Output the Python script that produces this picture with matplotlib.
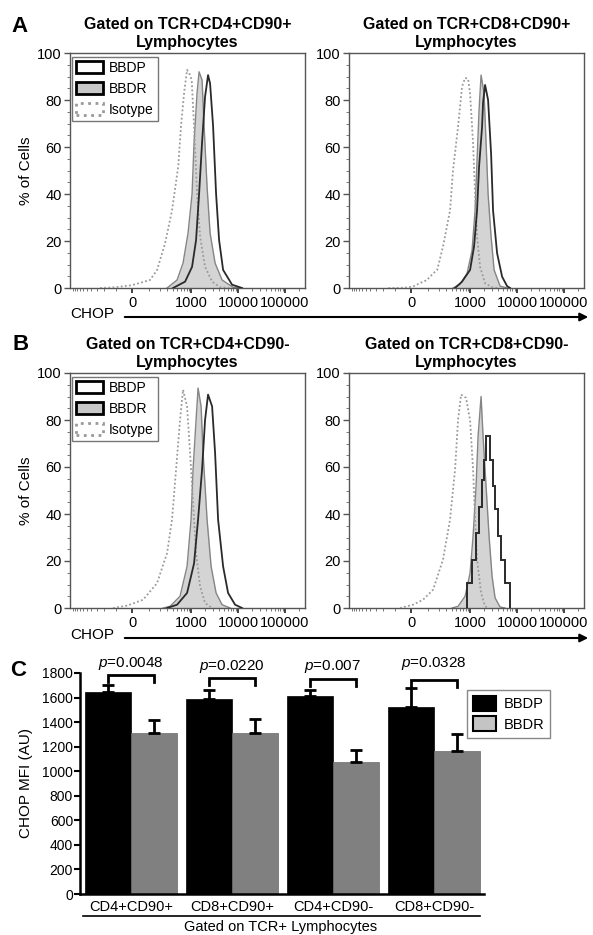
import numpy as np
import matplotlib
matplotlib.use('Agg')
import matplotlib.pyplot as plt
from matplotlib.patches import Patch, FancyArrowPatch
from matplotlib.lines import Line2D
from matplotlib.ticker import MultipleLocator, FixedLocator

plt.rcParams['font.family'] = ['Liberation Sans', 'DejaVu Sans']
plt.rcParams['mathtext.fontset'] = 'custom'
plt.rcParams['mathtext.it'] = 'Liberation Sans:italic'
plt.rcParams['mathtext.rm'] = 'Liberation Sans'

# ---------------- histogram data (CHOP value, % of cells) ----------------
# A, CD4+CD90+
a4_iso_x = [-254, -104, 0, 111, 173, 269, 386, 530, 607, 707, 819, 930, 1030, 1157, 1341, 1553, 1986, 2805, 4150, 6770]
a4_iso_y = [0, 0.3, 1.2, 3.4, 7.7, 19, 33, 52, 69, 83, 92.8, 91, 88.5, 69, 40, 22, 9, 2.7, 0.3, 0]
a4_bbdr_x = [299, 498, 671, 860, 1048, 1157, 1341, 1480, 1715, 1892, 2192, 2540, 3247, 4575, 7840, 11050]
a4_bbdr_y = [0, 3.4, 10.6, 23.4, 40, 62, 83, 92, 88.5, 69, 43, 23.4, 10.6, 3.4, 0.3, 0]
a4_bbdp_x = [407, 743, 1048, 1277, 1480, 1715, 1986, 2300, 2540, 2942, 3410, 3950, 4810, 7460, 12190]
a4_bbdp_y = [0, 2.7, 9, 20.4, 40, 62, 81.4, 90.6, 87, 69, 40, 20.4, 7.7, 1.4, 0]

# A, CD8+CD90+
a8_iso_x = [-150, -39, 11, 51, 96, 145, 185, 254, 367, 427, 550, 671, 781, 905, 998, 1157, 1277, 1408, 1633, 2087, 2942, 4150]
a8_iso_y = [0, 0.1, 0.6, 2.1, 3.4, 6.2, 7.7, 17.6, 33, 50, 68.6, 85.7, 89.4, 89, 82.8, 61.7, 40, 21.8, 9, 2, 0.3, 0]
a8_bbdr_x = [427, 607, 860, 1101, 1277, 1408, 1553, 1715, 1986, 2192, 2420, 2805, 3247, 4360, 6140]
a8_bbdr_y = [0, 1.6, 6.2, 16, 33, 54.5, 75.7, 90.6, 82.8, 61.7, 40, 21.8, 7.7, 0.8, 0]
a8_bbdp_x = [474, 671, 998, 1214, 1408, 1553, 1801, 1892, 2087, 2420, 2805, 3087, 3763, 4810, 6140, 7115]
a8_bbdp_y = [0, 2.7, 7.7, 17.6, 33, 51.6, 68.6, 79, 86.4, 80, 57, 33, 14.8, 4.8, 0.8, 0]

# B, CD4+CD90-
b4_iso_x = [-119, -27, 63, 173, 299, 386, 474, 578, 671, 819, 950, 1101, 1277, 1553, 1986, 2805]
b4_iso_y = [0, 1, 3.5, 10.6, 23.4, 37.6, 59, 80, 92.9, 85.8, 66, 44.7, 23.4, 9.2, 2.1, 0]
b4_bbdr_x = [242, 348, 578, 819, 998, 1101, 1277, 1408, 1633, 1801, 2192, 2670, 3410, 4575, 6770]
b4_bbdr_y = [0, 0.7, 5, 17.7, 37.6, 59, 80, 93.6, 85.8, 66, 37.6, 17.7, 6.4, 1.4, 0]
b4_bbdp_x = [299, 498, 819, 1157, 1408, 1715, 1986, 2300, 2805, 3247, 3763, 4810, 6140, 8650, 12190]
b4_bbdp_y = [0, 1.4, 6.4, 19, 37.6, 59, 80, 90.8, 85.8, 66, 37.6, 17.7, 6.4, 1.4, 0]

# B, CD8+CD90-
b8_iso_x = [-63, 11, 69, 145, 254, 367, 474, 550, 638, 819, 998, 1157, 1277, 1408, 1715, 2087, 2420]
b8_iso_y = [0, 1.4, 3.5, 7.8, 20.6, 37.6, 59, 80, 90.8, 89.4, 80, 59, 37.6, 20.6, 6.4, 0.7, 0]
b8_bbdr_x = [407, 550, 781, 998, 1157, 1341, 1480, 1715, 1892, 2192, 2540, 2942, 3410, 4360, 5560]
b8_bbdr_y = [0, 0.7, 5, 14.9, 30.5, 51.8, 73, 90, 73, 51.8, 30.5, 13.5, 4.3, 0.4, 0]
b8_bbdp_edges = [860, 1101, 1341, 1553, 1757, 1986, 2192, 2670, 3016, 3410, 3855, 4575, 5560, 7115]
b8_bbdp_vals = [10.5, 20.4, 31.8, 43, 54.5, 63, 73.3, 63, 52, 42, 30.5, 20.5, 10.6]

titles = ['Gated on TCR+CD4+CD90+\nLymphocytes', 'Gated on TCR+CD8+CD90+\nLymphocytes',
          'Gated on TCR+CD4+CD90-\nLymphocytes', 'Gated on TCR+CD8+CD90-\nLymphocytes']
xtick_vals = [0, 1000, 10000, 100000]
xtick_labels = ['0', '1000', '10000', '100000']

# ---------------- bar data ----------------
groups = ['CD4+CD90+', 'CD8+CD90+', 'CD4+CD90-', 'CD8+CD90-']
bbdp_mfi = [1645, 1585, 1615, 1525]
bbdp_err = [55, 80, 48, 152]
bbdr_mfi = [1310, 1312, 1072, 1168]
bbdr_err = [105, 115, 97, 132]
p_labels = ['0.0048', '0.0220', '0.007', '0.0328']
bracket_top = [1784, 1760, 1750, 1745]
p_text_y = [1880, 1850, 1850, 1880]

W, H = 593, 935
fig = plt.figure(figsize=(W / 100, H / 100), dpi=100)


def box(left, top, w, h):
    return [left / W, 1 - (top + h) / H, w / W, h / H]


C = 111.0


def fwd(x):
    return np.arcsinh(np.asarray(x, dtype=float) / C)


def inv(u):
    return C * np.sinh(u)


minor_x = ([-v for v in range(100, 1001, 100)] + list(range(100, 1000, 100)) +
           list(range(2000, 10000, 1000)) + list(range(20000, 100000, 10000)) +
           list(range(200000, 260000, 100000)))


def hist_panel(rect, title, iso, bbdr, bbdp, stairs=False, first=False):
    ax = fig.add_axes(rect)
    ax.set_xscale('function', functions=(fwd, inv))
    ax.fill_between(bbdr[0], bbdr[1], color='#d4d4d4', lw=0, zorder=1)
    ax.plot(bbdr[0], bbdr[1], color='#858585', lw=1.0, zorder=2)
    ax.plot(iso[0], iso[1], color='#9a9a9a', lw=1.3, ls=(0, (1, 1.3)), zorder=3)
    if stairs:
        ax.stairs(bbdp[1], bbdp[0], baseline=0, color='#2a2a2a', lw=1.4, zorder=4)
    else:
        ax.plot(bbdp[0], bbdp[1], color='#2a2a2a', lw=1.3, zorder=4)
    ax.set_xlim(-1157, 266000)
    ax.set_ylim(0, 100)
    ax.set_title(title, fontsize=11.5, fontweight='bold', pad=4, linespacing=1.25)
    for s in ax.spines.values():
        s.set_color('#555555')
        s.set_linewidth(1.0)
    ax.set_yticks(range(0, 101, 20))
    ax.yaxis.set_minor_locator(MultipleLocator(5))
    ax.tick_params(axis='y', which='major', direction='out', length=4, width=1,
                   color='#555555', labelsize=10.5, pad=2)
    ax.tick_params(axis='y', which='minor', direction='out', length=2, width=0.7, color='#777777')
    ax.set_xticks(xtick_vals)
    ax.set_xticklabels(xtick_labels)
    ax.xaxis.set_minor_locator(FixedLocator(minor_x))
    ax.tick_params(axis='x', which='major', direction='out', length=3.5, width=1.3,
                   color='#333333', labelsize=10.5, pad=2.5)
    ax.tick_params(axis='x', which='minor', direction='out', length=2.5, width=0.7, color='#777777')
    if first:
        ax.set_ylabel('% of Cells', fontsize=11)
        ax.yaxis.set_label_coords(-37 / 235, 0.5)
        handles = [Patch(facecolor='white', edgecolor='black', lw=2, label='BBDP'),
                   Patch(facecolor='#c8c8c8', edgecolor='black', lw=2, label='BBDR'),
                   Patch(facecolor='white', edgecolor='#999999', lw=2, ls=':', label='Isotype')]
        leg = ax.legend(handles=handles, loc='upper left', bbox_to_anchor=(0.009, 0.985),
                        fontsize=10, fancybox=False, edgecolor='#777777', framealpha=1,
                        handlelength=1.9, handleheight=1.0, labelspacing=0.5, borderpad=0.3,
                        handletextpad=0.45, borderaxespad=0)
        leg.get_frame().set_linewidth(1.0)
    return ax


hist_panel(box(70, 53, 235, 235), titles[0], (a4_iso_x, a4_iso_y), (a4_bbdr_x, a4_bbdr_y),
           (a4_bbdp_x, a4_bbdp_y), first=True)
hist_panel(box(349, 53, 235, 235), titles[1], (a8_iso_x, a8_iso_y), (a8_bbdr_x, a8_bbdr_y),
           (a8_bbdp_x, a8_bbdp_y))
hist_panel(box(70, 373, 235, 235), titles[2], (b4_iso_x, b4_iso_y), (b4_bbdr_x, b4_bbdr_y),
           (b4_bbdp_x, b4_bbdp_y), first=True)
hist_panel(box(349, 373, 235, 235), titles[3], (b8_iso_x, b8_iso_y), (b8_bbdr_x, b8_bbdr_y),
           (b8_bbdp_edges, b8_bbdp_vals), stairs=True)

# CHOP axis labels with arrows
for ty, ay in [(314, 317), (635, 638)]:
    fig.text(70 / W, 1 - ty / H, 'CHOP', fontsize=11, va='center', ha='left')
    fig.add_artist(FancyArrowPatch((122 / W, 1 - ay / H), (591 / W, 1 - ay / H),
                                   transform=fig.transFigure, arrowstyle='-|>',
                                   mutation_scale=12, lw=1.5, color='black'))

# ---------------- panel C bars ----------------
ax = fig.add_axes(box(80, 673, 404, 221))
x = np.arange(len(groups))
w = 0.455
zeros = [0] * len(groups)
ekw = dict(ecolor='black', elinewidth=2, capsize=4, capthick=2)
ax.bar(x - w / 2, bbdp_mfi, w, color='black', edgecolor='black', lw=0.5,
       yerr=[zeros, bbdp_err], error_kw=ekw)
ax.bar(x + w / 2, bbdr_mfi, w, color='#808080', edgecolor='#6a6a6a', lw=0.5,
       yerr=[zeros, bbdr_err], error_kw=ekw)
ax.set_xlim(-0.505, 3.495)
ax.set_ylim(0, 1800)
ax.set_yticks(range(0, 1801, 200))
ax.set_xticks(x)
ax.set_xticklabels(groups)
for s in ['top', 'right']:
    ax.spines[s].set_visible(False)
for s in ['left', 'bottom']:
    ax.spines[s].set_linewidth(1.8)
ax.tick_params(axis='y', direction='out', length=4, width=1.5, labelsize=10, pad=1)
ax.tick_params(axis='x', length=0, labelsize=10.5, pad=4)
ax.set_ylabel('CHOP MFI (AU)', fontsize=11)
ax.yaxis.set_label_coords(-47 / 404, 0.5)

for i in range(len(groups)):
    t = bracket_top[i]
    ax.plot([i - w / 2, i - w / 2, i + w / 2, i + w / 2], [t - 57, t, t, t - 57],
            color='black', lw=2, clip_on=False, solid_joinstyle='miter')
    ax.text(i, p_text_y[i], r'$\mathit{p}$=' + p_labels[i], fontsize=11,
            ha='center', va='center', clip_on=False)

leg = ax.legend(handles=[Patch(facecolor='black', edgecolor='black', lw=1.5, label='BBDP'),
                         Patch(facecolor='#c4c4c4', edgecolor='black', lw=1.5, label='BBDR')],
                loc='upper left', bbox_to_anchor=(467 / W, 1 - 690 / H),
                bbox_transform=fig.transFigure, fontsize=10.5, fancybox=False,
                edgecolor='#888888', framealpha=1, handlelength=1.6, handleheight=1.2,
                borderpad=0.4, labelspacing=0.35, handletextpad=0.5, borderaxespad=0)
leg.get_frame().set_linewidth(1.0)

fig.add_artist(Line2D([83 / W, 480 / W], [1 - 916 / H] * 2, color='black', lw=1.2))
fig.text(281 / W, 1 - 927 / H, 'Gated on TCR+ Lymphocytes', fontsize=10.5,
         ha='center', va='center')

# panel letters
for lab, px, py in [('A', 20, 26), ('B', 21, 344), ('C', 18, 670)]:
    fig.text(px / W, 1 - py / H, lab, fontsize=16, fontweight='bold', ha='center', va='center')

fig.savefig('out.png', dpi=100)
